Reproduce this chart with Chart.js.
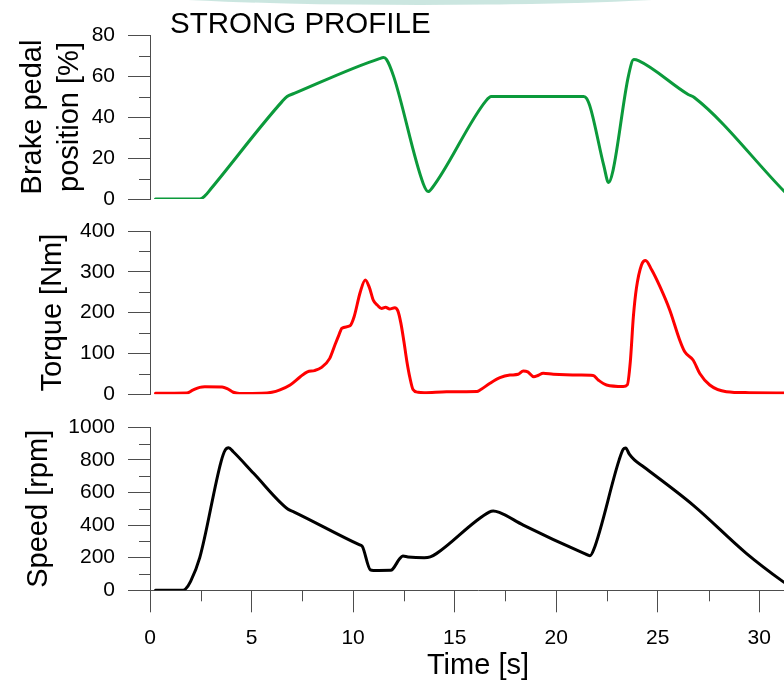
<!DOCTYPE html>
<html>
<head>
<meta charset="utf-8">
<title>Strong profile</title>
<script src="https://cdn.jsdelivr.net/npm/chart.js@4.4.1/dist/chart.umd.min.js"></script>
<style>
  html, body { margin: 0; padding: 0; background: #fff; overflow: hidden; }
  #page { position: relative; width: 784px; height: 683px; overflow: hidden; }
  #page canvas { position: absolute; left: 0; }
  .swoosh {
    position: absolute; left: 70px; top: -35px; width: 700px; height: 40px;
    border-radius: 50%; background: rgba(160, 210, 198, 0.55);
  }
</style>
</head>
<body>
<div id="page">
  <div class="swoosh"></div>
  <canvas id="brakeChart" width="806" height="230" style="top:0"></canvas>
  <canvas id="torqueChart" width="806" height="224" style="top:200px"></canvas>
  <canvas id="speedChart" width="806" height="283" style="top:400px"></canvas>
</div>

<script>
// brake pedal position [%]
const brakeTime   = [0.27, 2.45, 2.7, 3.0, 6.5, 6.75, 7.1, 11.3, 11.5, 11.65, 12.0, 13.45, 13.7, 13.9, 16.55, 16.8, 17.1, 21.35, 21.5, 21.7, 22.35, 22.58, 22.8, 23.55, 23.82, 24.05, 26.5, 26.8, 31.2, 31.5];
const brakeValues = [0, 0, 1.5, 5, 47.5, 50, 51.5, 68.5, 69, 68, 59.7, 7.6, 3.6, 5.5, 48, 50, 50, 50, 49, 44, 16, 8, 14, 59.7, 68, 67.5, 51, 49.5, 4, 1];

// torque [Nm]
const torqueTime   = [0.27, 1.8, 2.1, 2.45, 2.7, 3.55, 3.8, 4.1, 4.4, 5.5, 6.0, 6.4, 6.9, 7.4, 7.75, 8.1, 8.45, 8.85, 9.1, 9.3, 9.45, 9.85, 10.05, 10.35, 10.6, 10.8, 11.0, 11.2, 11.4, 11.6, 11.8, 12.05, 12.2, 12.35, 12.5, 12.65, 12.8, 12.95, 13.2, 13.5, 14.6, 16.1, 16.25, 16.74, 17.23, 17.72, 18.13, 18.38, 18.6, 18.9, 19.1, 19.36, 19.86, 21.17, 21.82, 22.07, 22.48, 23.3, 23.5, 23.65, 23.8, 23.95, 24.2, 24.4, 24.7, 25.11, 25.59, 26.08, 26.33, 26.74, 27.07, 27.56, 28.38, 29.5, 31.5];
const torqueValues = [2.5, 3, 10, 17, 18.5, 18, 14, 5, 2, 2.5, 5, 11, 23, 43, 55, 58, 66, 88, 120, 145, 162, 168, 190, 250, 280, 262, 230, 218, 210, 213, 209, 212, 205, 175, 130, 80, 40, 12, 5, 4, 6.4, 7, 10.5, 27, 40.7, 47, 49, 57, 55, 43, 46, 51.4, 49, 47, 46, 35, 22.8, 19, 23, 80, 190, 260, 317, 328, 305, 263.6, 206.5, 133, 104, 84, 51, 22.8, 6.4, 4, 3];

// speed [rpm]
const speedTime   = [0.27, 1.55, 1.75, 2.0, 2.45, 3.5, 3.7, 3.87, 4.1, 5.1, 6.8, 7.1, 10.3, 10.45, 10.85, 11.0, 11.85, 11.95, 12.3, 12.45, 12.7, 13.5, 13.8, 14.1, 16.7, 16.9, 17.2, 18.38, 21.4, 21.66, 21.85, 23.1, 23.3, 23.42, 23.6, 23.85, 24.3, 26.74, 29.36, 31.17, 31.5];
const speedValues = [0, 0, 8, 55, 200, 790, 860, 875, 850, 718, 497, 480, 280, 270, 125, 122, 123, 130, 195, 210, 205, 200, 205, 225, 480, 487, 478, 400, 225, 212, 250, 800, 865, 873, 835, 800, 758, 523, 227, 53, 25];

// axis ranges and tick steps
const timeRange = [0, 32.3];
const brakeRange = [0, 80];
const torqueRange = [0, 400];
const speedRange = [0, 1000];
const timeStep = 5;
const brakeStep = 20;
const torqueStep = 100;
const speedStep = 200;

const FONT = "'Liberation Sans', Arial, sans-serif";
const AXIS_GREY = '#4d4d4d';
const PLOT_LEFT = 150;

function points(xs, ys) {
  return xs.map((x, i) => ({ x: x, y: ys[i] }));
}

// half-length ticks halfway between the labelled ones
const minorTicks = {
  id: 'minorTicks',
  afterDraw(chart, args, opts) {
    const ctx = chart.ctx;
    ctx.save();
    ctx.strokeStyle = AXIS_GREY;
    ctx.lineWidth = 1;
    ctx.beginPath();
    Object.keys(opts.steps || {}).forEach(id => {
      const scale = chart.scales[id];
      if (!scale || !scale.options.display) return;
      const major = opts.steps[id];
      for (let v = scale.min + major / 2; v < scale.max; v += major) {
        const p = Math.round(scale.getPixelForValue(v)) + 0.5;
        if (scale.isHorizontal()) {
          ctx.moveTo(p, scale.top);
          ctx.lineTo(p, scale.top + 11);
        } else {
          ctx.moveTo(scale.right - 11, p);
          ctx.lineTo(scale.right, p);
        }
      }
    });
    ctx.stroke();
    ctx.restore();
  }
};

// heading written over the top panel
const headline = {
  id: 'headline',
  afterDraw(chart, args, opts) {
    if (!opts.text) return;
    const ctx = chart.ctx;
    ctx.save();
    ctx.font = opts.size + 'px ' + FONT;
    ctx.fillStyle = '#000';
    ctx.textBaseline = 'alphabetic';
    ctx.fillText(opts.text, opts.x, opts.y);
    ctx.restore();
  }
};

function valueAxis(range, step, title, titleLeft, lineHeight) {
  return {
    type: 'linear',
    position: 'left',
    min: range[0],
    max: range[1],
    afterFit: s => { s.width = PLOT_LEFT - titleLeft; },
    ticks: {
      stepSize: step, padding: 13, color: '#000', font: { family: FONT, size: 21 },
      callback: v => String(v)
    },
    grid: { drawOnChartArea: false, drawTicks: true, tickLength: 22, tickColor: AXIS_GREY, tickWidth: 1 },
    border: { display: true, color: AXIS_GREY, width: 1 },
    title: {
      display: true, text: title, color: '#000', padding: 0,
      font: { family: FONT, size: 29, lineHeight: lineHeight }
    }
  };
}

function timeAxis(visible) {
  return {
    type: 'linear',
    display: visible,
    min: timeRange[0],
    max: timeRange[1],
    afterFit: s => { if (visible) s.height = 92.7; },
    ticks: {
      stepSize: timeStep, includeBounds: false, padding: 13, maxRotation: 0, autoSkip: false,
      color: '#000', font: { family: FONT, size: 21 },
      callback: v => String(v)
    },
    grid: { drawOnChartArea: false, drawTicks: true, tickLength: 22, tickColor: AXIS_GREY, tickWidth: 1 },
    border: { display: true, color: AXIS_GREY, width: 1 },
    title: {
      display: true, text: 'Time [s]', color: '#000', padding: 0,
      font: { family: FONT, size: 29, lineHeight: 1.14 }
    }
  };
}

function panel(canvasId, series, color, yScale, showTime, padding, extra) {
  return new Chart(document.getElementById(canvasId), {
    type: 'line',
    data: {
      datasets: [{
        data: series,
        borderColor: color,
        borderWidth: 3,
        pointRadius: 0,
        fill: false,
        cubicInterpolationMode: 'monotone',
        borderJoinStyle: 'round',
        borderCapStyle: 'round'
      }]
    },
    options: {
      responsive: false,
      animation: false,
      events: [],
      layout: { padding: padding },
      scales: { x: timeAxis(showTime), y: yScale },
      plugins: Object.assign({
        legend: { display: false },
        tooltip: { enabled: false },
        minorTicks: { steps: showTime ? { x: timeStep, y: yScale.ticks.stepSize } : { y: yScale.ticks.stepSize } }
      }, extra || {})
    },
    plugins: [minorTicks, headline]
  });
}

panel('brakeChart', points(brakeTime, brakeValues), '#0b9a3b',
  valueAxis(brakeRange, brakeStep, ['Brake pedal', 'position [%]'], 15, 1.27),
  false, { top: 35, bottom: 31, left: 15, right: 0 },
  { headline: { text: 'STRONG PROFILE', x: 170, y: 33, size: 29.5 } });

panel('torqueChart', points(torqueTime, torqueValues), '#ff0000',
  valueAxis(torqueRange, torqueStep, 'Torque [Nm]', 36, 1.2),
  false, { top: 31, bottom: 29.7, left: 36, right: 0 });

panel('speedChart', points(speedTime, speedValues), '#000000',
  valueAxis(speedRange, speedStep, 'Speed [rpm]', 22, 1.2),
  true, { top: 27.3, bottom: 0, left: 22, right: 0 });
</script>
</body>
</html>
